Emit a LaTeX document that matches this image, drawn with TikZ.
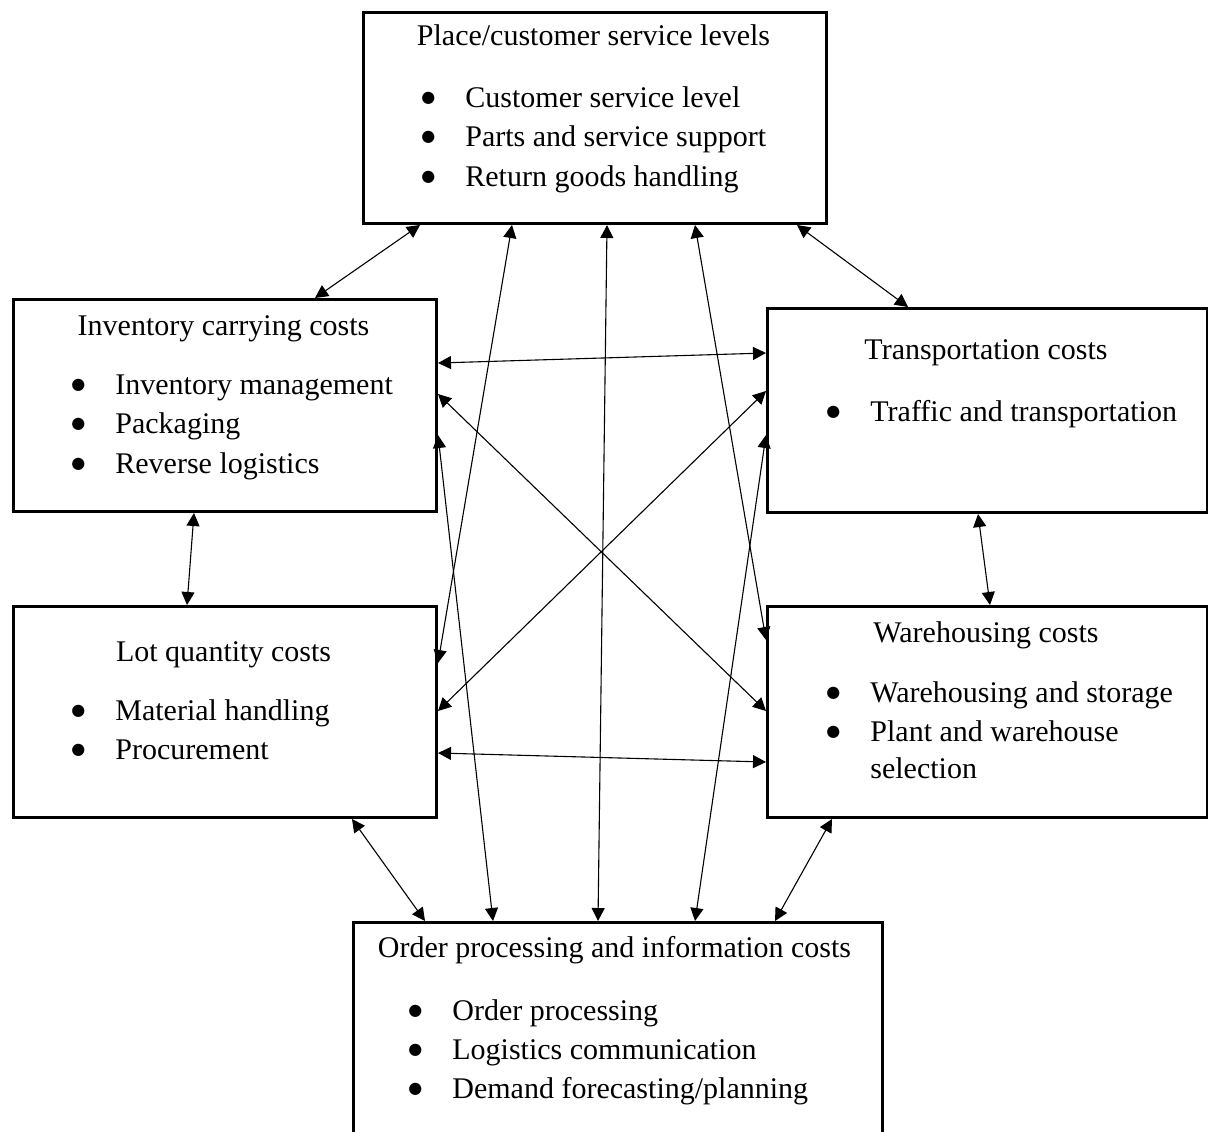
\documentclass[tikz,border=0pt]{standalone}
\usepackage{fontspec}
\setmainfont{Liberation Serif}
\newfontfamily\dejavu{DejaVu Sans}
\usetikzlibrary{arrows.meta,calc}
\newcommand\mybul{\llap{\makebox[0pt]{\raisebox{2.4pt}{\dejavu\fontsize{8}{8}\selectfont ●}}\hspace{18.5pt}}}
\begin{document}
\begin{tikzpicture}[x=0.5pt,y=-0.5pt,
  box/.style={draw,line width=1.5pt,rectangle,inner sep=0pt,anchor=north west},
  conn/.style={line width=0.55pt,{Triangle[length=6.5pt,width=6.5pt]}-{Triangle[length=6.5pt,width=6.5pt]}},
  ttl/.style={anchor=base,inner sep=0pt,font=\fontsize{15}{19.5}\selectfont},
  itm/.style={anchor=base west,inner sep=0pt,font=\fontsize{15}{18.5}\selectfont,align=left}]
\useasboundingbox (0,0) rectangle (1208,1131);
% boxes
\node[box,minimum width=231.5pt,minimum height=105.5pt] (top) at (362,11) {};
\node[box,minimum width=211.5pt,minimum height=106pt] (inv) at (12,298) {};
\node[box,minimum width=220pt,minimum height=102pt] (trans) at (766,307) {};
\node[box,minimum width=211.5pt,minimum height=105.5pt] (lot) at (12,605) {};
\node[box,minimum width=220pt,minimum height=105.5pt] (ware) at (766,605) {};
\node[box,minimum width=264.5pt,minimum height=120pt] (order) at (352,921) {};
% texts
\node[ttl] (topT) at (593.5,45) {Place/customer service levels};
\node[itm] (top1) at (465,107) {\mybul Customer service level};
\node[itm] (top2) at (465,146) {\mybul Parts and service support};
\node[itm] (top3) at (465,186) {\mybul Return goods handling};
\node[ttl] (invT) at (223.5,335) {Inventory carrying costs};
\node[itm] (inv1) at (115,394) {\mybul Inventory management};
\node[itm] (inv2) at (115,433) {\mybul Packaging};
\node[itm] (inv3) at (115,473) {\mybul Reverse logistics};
\node[ttl] (transT) at (986,359) {Transportation costs};
\node[itm] (trans1) at (870,421) {\mybul Traffic and transportation};
\node[ttl] (lotT) at (223.5,661) {Lot quantity costs};
\node[itm] (lot1) at (115,720) {\mybul Material handling};
\node[itm] (lot2) at (115,759) {\mybul Procurement};
\node[ttl] (wareT) at (986,642) {Warehousing costs};
\node[itm] (ware1) at (870,702) {\mybul Warehousing and storage};
\node[itm] (ware2) at (870,778) {\mybul Plant and warehouse\\selection};
\node[ttl] (orderT) at (614.5,957) {Order processing and information costs};
\node[itm] (order1) at (452,1020) {\mybul Order processing};
\node[itm] (order2) at (452,1059) {\mybul Logistics communication};
\node[itm] (order3) at (452,1098) {\mybul Demand forecasting/planning};
% connectors
\draw[conn] ($(top.south west)+(58,0)$) -- ($(inv.north west)+(303,0)$);
\draw[conn] ($(top.south west)+(150,0)$) -- ($(lot.north east)+(0,58)$);
\draw[conn] ($(top.south west)+(245,0)$) -- ($(order.north west)+(246,0)$);
\draw[conn] ($(top.south west)+(333,0)$) -- ($(ware.north west)+(0,35)$);
\draw[conn] ($(top.south west)+(435,0)$) -- ($(trans.north west)+(142,0)$);
\draw[conn] ($(inv.north east)+(0,65)$) -- ($(trans.north west)+(0,46)$);
\draw[conn] ($(inv.north east)+(0,96)$) -- ($(ware.north west)+(0,106)$);
\draw[conn] ($(inv.north east)+(0,137)$) -- ($(order.north west)+(141,0)$);
\draw[conn] ($(trans.north west)+(0,84)$) -- ($(lot.north east)+(0,106)$);
\draw[conn] ($(trans.north west)+(0,128)$) -- ($(order.north west)+(343,0)$);
\draw[conn] ($(inv.south west)+(182,0)$) -- ($(lot.north west)+(175,0)$);
\draw[conn] ($(trans.south west)+(212,0)$) -- ($(ware.north west)+(224,0)$);
\draw[conn] ($(lot.north east)+(0,148)$) -- ($(ware.north west)+(0,157)$);
\draw[conn] ($(lot.south west)+(340,0)$) -- ($(order.north west)+(73,0)$);
\draw[conn] ($(ware.south west)+(66,0)$) -- ($(order.north west)+(423,0)$);
\end{tikzpicture}
\end{document}
